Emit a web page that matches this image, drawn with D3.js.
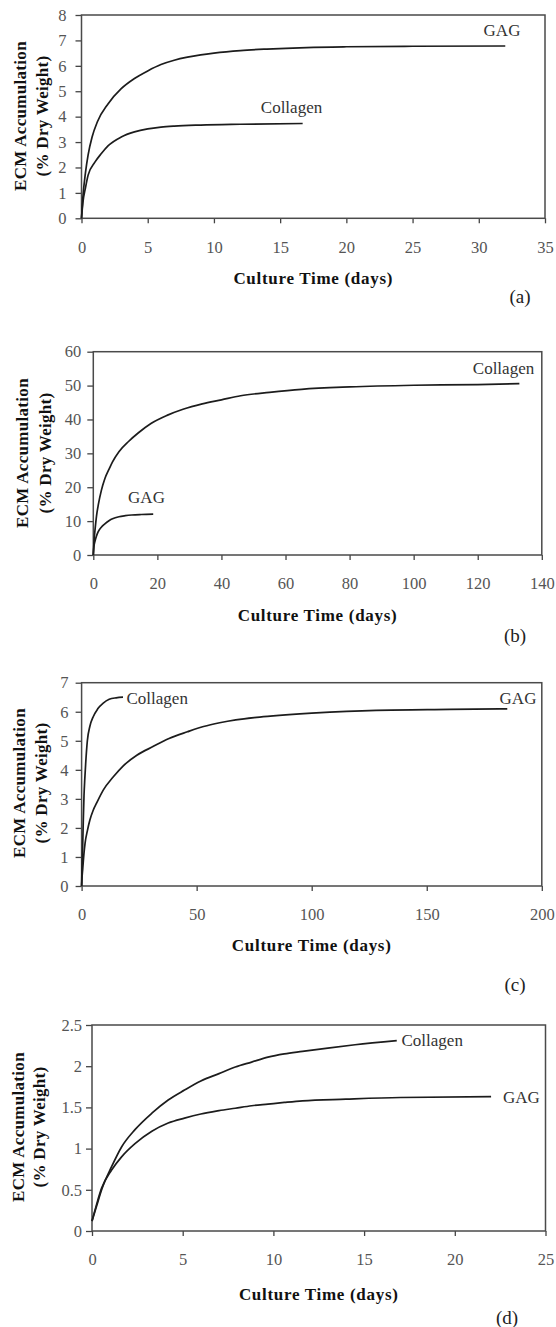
<!DOCTYPE html>
<html><head><meta charset="utf-8">
<script src="https://cdn.jsdelivr.net/npm/d3@7"></script>
<style>body{margin:0;background:#fff}svg{display:block}</style>
</head><body>
<svg id="chart" width="556" height="1327"></svg>
<script>
// ---------- DATA ----------
const panelLetters = ["(a)", "(b)", "(c)", "(d)"];
const xTitle = "Culture Time (days)";
const yTitleLine1 = "ECM Accumulation";
const yTitleLine2 = "(% Dry Weight)";

// Panel (a)
const xTicksA = [0, 5, 10, 15, 20, 25, 30, 35];
const yTicksA = [0, 1, 2, 3, 4, 5, 6, 7, 8];
const gagA = [[0,0],[0.1,0.8],[0.3,1.8],[0.5,2.5],[0.8,3.2],[1.2,3.8],[2,4.5],[3,5.1],[4,5.5],[5,5.8],[6,6.05],[7,6.22],[8,6.34],[9,6.43],[10,6.5],[12,6.6],[14,6.66],[17,6.72],[20,6.75],[25,6.77],[32,6.78]];
const collagenA = [[0,0],[0.1,0.6],[0.3,1.2],[0.5,1.7],[1,2.2],[1.5,2.55],[2,2.85],[3,3.2],[4,3.4],[5,3.52],[6,3.59],[7,3.63],[9,3.67],[12,3.7],[16.7,3.73]];

// Panel (b)
const xTicksB = [0, 20, 40, 60, 80, 100, 120, 140];
const yTicksB = [0, 10, 20, 30, 40, 50, 60];
const collagenB = [[0,0],[0.3,5],[0.6,8],[1,11.5],[1.6,15],[2.5,19],[3.6,22.5],[5,25.5],[6,27.5],[8,30.5],[11,33.5],[14,36],[18,38.8],[23,41.2],[28,43],[34,44.6],[40,45.8],[46,47],[55,48],[65,48.9],[80,49.6],[100,50.1],[120,50.3],[133,50.6]];
const gagB = [[0,0],[0.2,2.5],[0.5,4],[1,5.6],[1.5,6.8],[2.5,8.2],[3.6,9.2],[5,10.2],[6,10.7],[8,11.3],[10,11.6],[12,11.8],[15,11.95],[18.7,12.05]];

// Panel (c)
const xTicksC = [0, 50, 100, 150, 200];
const yTicksC = [0, 1, 2, 3, 4, 5, 6, 7];
const collagenC = [[0,0],[0.2,0.7],[0.46,1.35],[0.75,2.3],[1.04,3.1],[1.4,3.7],[1.76,4.2],[2.5,5.0],[3.6,5.5],[5,5.82],[7,6.1],[9.4,6.3],[12,6.43],[15,6.48],[18,6.5]];
const gagC = [[0,0],[0.2,0.3],[0.5,0.6],[1,1.1],[1.5,1.47],[2.5,1.9],[3.6,2.27],[5,2.6],[6.5,2.85],[9.4,3.3],[13.8,3.76],[18,4.13],[24,4.5],[31,4.8],[38,5.08],[46,5.31],[53,5.49],[60,5.62],[67,5.72],[75,5.8],[82,5.85],[100,5.95],[128,6.05],[160,6.08],[185,6.1]];

// Panel (d)
const xTicksD = [0, 5, 10, 15, 20, 25];
const yTicksD = [0, 0.5, 1, 1.5, 2, 2.5];
const collagenD = [[0,0.12],[0.25,0.3],[0.53,0.5],[1.08,0.78],[1.63,1.02],[2.37,1.23],[3.3,1.43],[4.2,1.59],[5.1,1.71],[6,1.82],[7,1.91],[7.9,1.99],[8.8,2.05],[9.7,2.11],[10.6,2.15],[11.6,2.18],[13,2.22],[14.5,2.26],[16.8,2.31]];
const gagD = [[0,0.12],[0.25,0.32],[0.53,0.52],[1.08,0.74],[1.63,0.9],[2.37,1.06],[3.3,1.21],[4.2,1.31],[5.1,1.37],[6,1.42],[7,1.46],[7.9,1.49],[8.8,1.52],[9.7,1.54],[10.6,1.56],[11.6,1.58],[14,1.6],[17,1.62],[22,1.63]];

// ---------- LAYOUT (positions/styles) ----------
const panels = [
  {xTicks:xTicksA, yTicks:yTicksA, series:[{name:"GAG",data:gagA},{name:"Collagen",data:collagenA}],
   l:81.5, r:545, t:15, b:218.3, yPad:9, yT:[20,42], yTY:116, xTY:278, letter:[520,296],
   lab:{GAG:[502,30,"middle"], Collagen:[291.5,107,"middle"]}},
  {xTicks:xTicksB, yTicks:yTicksB, series:[{name:"Collagen",data:collagenB},{name:"GAG",data:gagB}],
   l:93.3, r:541.8, t:351.7, b:555, yPad:6, yT:[22,45], yTY:453, xTY:615, letter:[515,635],
   lab:{Collagen:[503.5,368,"middle"], GAG:[146.5,497,"middle"]}},
  {xTicks:xTicksC, yTicks:yTicksC, series:[{name:"Collagen",data:collagenC},{name:"GAG",data:gagC}],
   l:81.6, r:541.8, t:682.7, b:886, yPad:7, yT:[19,41], yTY:783, xTY:945, letter:[515,984],
   lab:{Collagen:[126.5,698,"start"], GAG:[518,698,"middle"]}},
  {xTicks:xTicksD, yTicks:yTicksD, series:[{name:"Collagen",data:collagenD},{name:"GAG",data:gagD}],
   l:92, r:545.5, t:1025, b:1231, yPad:4, yT:[18,39.5], yTY:1127, xTY:1294, letter:[507,1317],
   lab:{Collagen:[401.5,1040,"start"], GAG:[503,1097,"start"]}}
];

const serif = "'Liberation Serif','Times New Roman',serif";
const svg = d3.select("#chart");

panels.forEach((p, i) => {
  const x = d3.scaleLinear().domain(d3.extent(p.xTicks)).range([p.l, p.r]);
  const y = d3.scaleLinear().domain(d3.extent(p.yTicks)).range([p.b, p.t]);
  const g = svg.append("g");

  // x axis
  const xa = g.append("g").attr("transform", `translate(0,${p.b})`)
    .call(d3.axisBottom(x).tickValues(p.xTicks).tickFormat(d3.format("d")).tickSizeInner(5).tickSizeOuter(0).tickPadding(17.5));
  xa.select(".domain").remove();
  // y axis
  const ya = g.append("g").attr("transform", `translate(${p.l},0)`)
    .call(d3.axisLeft(y).tickValues(p.yTicks).tickFormat(d => String(d)).tickSizeInner(6).tickSizeOuter(0).tickPadding(p.yPad));
  ya.select(".domain").remove();
  [xa, ya].forEach(a => {
    a.selectAll("line").attr("stroke", "#444").attr("stroke-width", 1.3);
    a.selectAll("text").attr("font-family", serif).attr("font-size", 16.5).attr("fill", "#555");
  });

  // frame
  g.append("rect").attr("x", p.l).attr("y", p.t).attr("width", p.r - p.l).attr("height", p.b - p.t)
    .attr("fill", "none").attr("stroke", "#4a4a4a").attr("stroke-width", 1.5);

  // curves
  const line = d3.line().x(d => x(d[0])).y(d => y(d[1])).curve(d3.curveMonotoneX);
  p.series.forEach(s => {
    g.append("path").datum(s.data).attr("d", line)
      .attr("fill", "none").attr("stroke", "#1c1c1c").attr("stroke-width", 1.7);
    const lb = p.lab[s.name];
    g.append("text").attr("x", lb[0]).attr("y", lb[1]).attr("dy", "0.35em")
      .attr("text-anchor", lb[2]).attr("font-family", serif).attr("font-size", 17)
      .attr("fill", "#333").text(s.name);
  });

  // axis titles
  g.append("text").attr("x", (p.l + p.r) / 2).attr("y", p.xTY).attr("dy", "0.35em")
    .attr("text-anchor", "middle").attr("font-family", serif).attr("font-weight", "bold")
    .attr("font-size", 17).attr("letter-spacing", 0.7).attr("fill", "#111").text(xTitle);
  [yTitleLine1, yTitleLine2].forEach((tx, k) => {
    g.append("text").attr("transform", `translate(${p.yT[k]},${p.yTY}) rotate(-90)`)
      .attr("dy", "0.35em").attr("text-anchor", "middle").attr("font-family", serif)
      .attr("font-weight", "bold").attr("font-size", 17).attr("letter-spacing", 0.3)
      .attr("fill", "#111").text(tx);
  });

  // panel letter
  g.append("text").attr("x", p.letter[0]).attr("y", p.letter[1]).attr("dy", "0.35em")
    .attr("text-anchor", "middle").attr("font-family", serif).attr("font-size", 19)
    .attr("fill", "#222").text(panelLetters[i]);
});
</script>
</body></html>
